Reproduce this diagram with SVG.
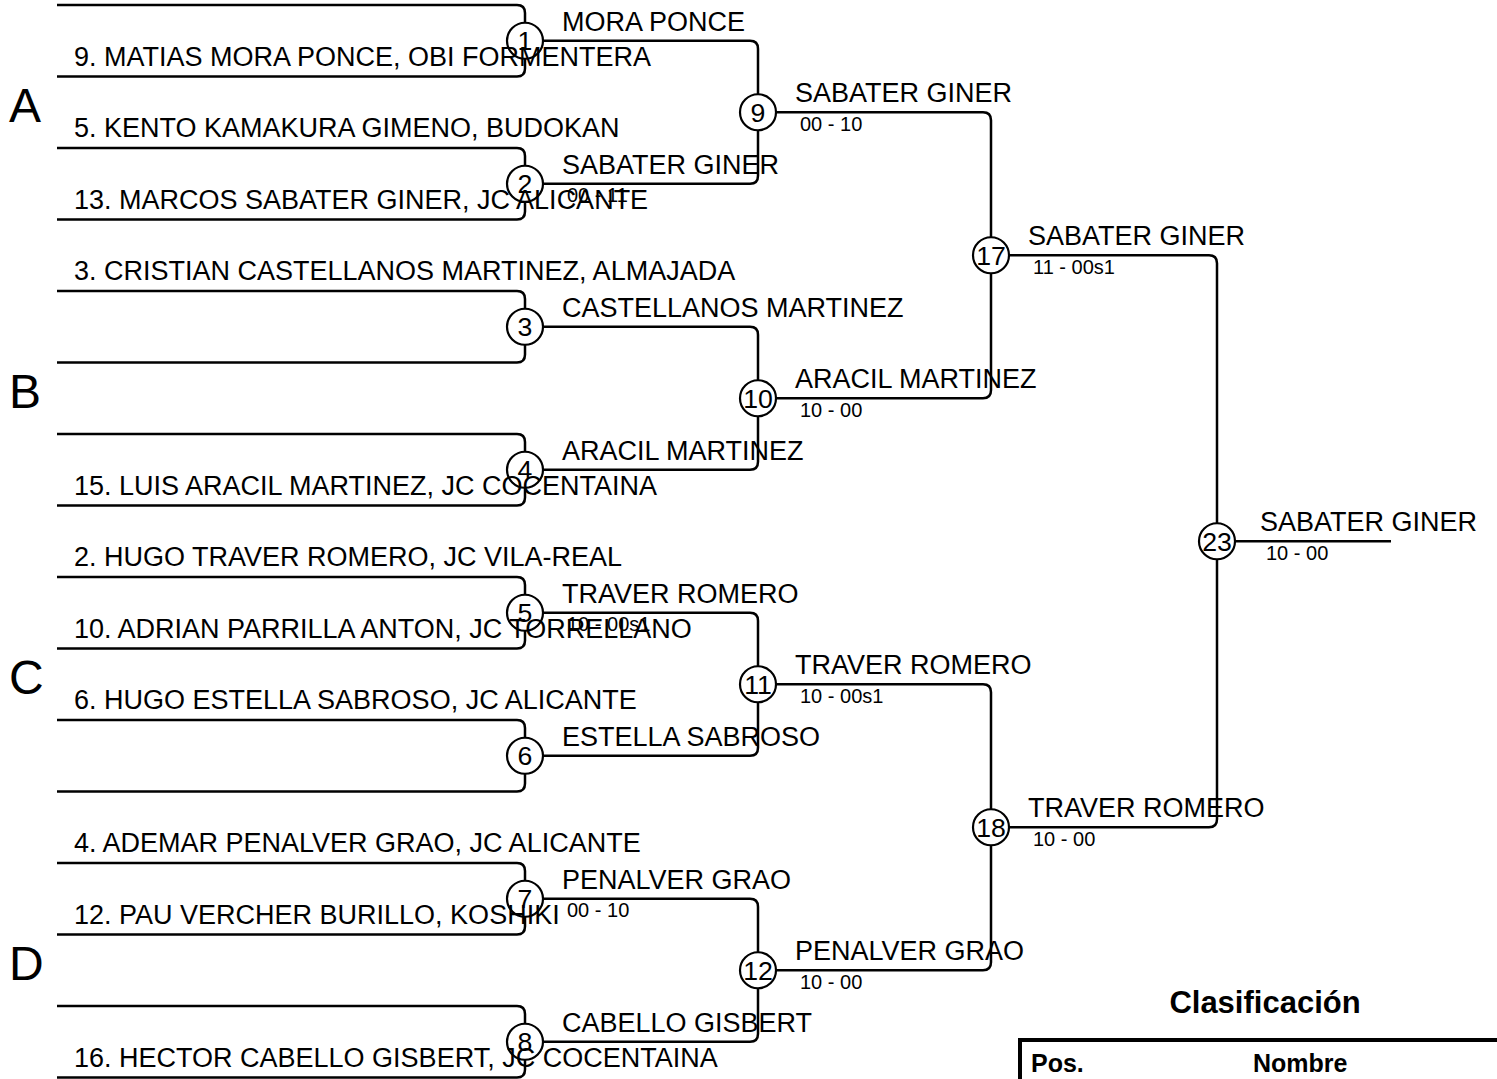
<svg xmlns="http://www.w3.org/2000/svg" width="1497" height="1079" viewBox="0 0 1497 1079">
<style>
text{font-family:"Liberation Sans",Arial,sans-serif;fill:#000}
.nm{font-size:27px}
.sc{font-size:20px}
.num{font-size:26.67px;text-anchor:middle}
.grp{font-size:48px}
.b{font-weight:bold}
.ln{fill:none;stroke:#000;stroke-width:2.5;stroke-linejoin:round}
.c{fill:none;stroke:#000;stroke-width:2.2}
</style>
<rect width="1497" height="1079" fill="#fff"/>
<g id="connectors" class="ln">
<path d="M57 5H517Q525 5 525 13V22.75"/>
<path d="M57 76.5H517Q525 76.5 525 68.5V58.75"/>
<path d="M57 148H517Q525 148 525 156V165.75"/>
<path d="M57 219.5H517Q525 219.5 525 211.5V201.75"/>
<path d="M57 291H517Q525 291 525 299V308.75"/>
<path d="M57 362.5H517Q525 362.5 525 354.5V344.75"/>
<path d="M57 434H517Q525 434 525 442V451.75"/>
<path d="M57 505.5H517Q525 505.5 525 497.5V487.75"/>
<path d="M57 577H517Q525 577 525 585V594.75"/>
<path d="M57 648.5H517Q525 648.5 525 640.5V630.75"/>
<path d="M57 720H517Q525 720 525 728V737.75"/>
<path d="M57 791.5H517Q525 791.5 525 783.5V773.75"/>
<path d="M57 863H517Q525 863 525 871V880.75"/>
<path d="M57 934.5H517Q525 934.5 525 926.5V916.75"/>
<path d="M57 1006H517Q525 1006 525 1014V1023.75"/>
<path d="M57 1077.5H517Q525 1077.5 525 1069.5V1059.75"/>
<path d="M543 40.75H750Q758 40.75 758 48.75V94.25"/>
<path d="M543 183.75H750Q758 183.75 758 175.75V130.25"/>
<path d="M543 326.75H750Q758 326.75 758 334.75V380.25"/>
<path d="M543 469.75H750Q758 469.75 758 461.75V416.25"/>
<path d="M543 612.75H750Q758 612.75 758 620.75V666.25"/>
<path d="M543 755.75H750Q758 755.75 758 747.75V702.25"/>
<path d="M543 898.75H750Q758 898.75 758 906.75V952.25"/>
<path d="M543 1041.75H750Q758 1041.75 758 1033.75V988.25"/>
<path d="M776 112.25H983Q991 112.25 991 120.25V237.25"/>
<path d="M776 398.25H983Q991 398.25 991 390.25V273.25"/>
<path d="M776 684.25H983Q991 684.25 991 692.25V809.25"/>
<path d="M776 970.25H983Q991 970.25 991 962.25V845.25"/>
<path d="M1009 255.25H1209Q1217 255.25 1217 263.25V523.25"/>
<path d="M1009 827.25H1209Q1217 827.25 1217 819.25V559.25"/>
<path d="M1235 541.25H1391"/>
</g>
<g id="groups">
<text class="grp" x="9" y="122">A</text>
<text class="grp" x="9" y="408">B</text>
<text class="grp" x="9" y="694">C</text>
<text class="grp" x="9" y="980">D</text>
</g>
<g id="players">
<text class="nm" x="74" y="65.5">9. MATIAS MORA PONCE, OBI FORMENTERA</text>
<text class="nm" x="74" y="137">5. KENTO KAMAKURA GIMENO, BUDOKAN</text>
<text class="nm" x="74" y="208.5">13. MARCOS SABATER GINER, JC ALICANTE</text>
<text class="nm" x="74" y="280">3. CRISTIAN CASTELLANOS MARTINEZ, ALMAJADA</text>
<text class="nm" x="74" y="494.5">15. LUIS ARACIL MARTINEZ, JC COCENTAINA</text>
<text class="nm" x="74" y="566">2. HUGO TRAVER ROMERO, JC VILA-REAL</text>
<text class="nm" x="74" y="637.5">10. ADRIAN PARRILLA ANTON, JC TORRELLANO</text>
<text class="nm" x="74" y="709">6. HUGO ESTELLA SABROSO, JC ALICANTE</text>
<text class="nm" x="74" y="852">4. ADEMAR PENALVER GRAO, JC ALICANTE</text>
<text class="nm" x="74" y="923.5">12. PAU VERCHER BURILLO, KOSHIKI</text>
<text class="nm" x="74" y="1066.5">16. HECTOR CABELLO GISBERT, JC COCENTAINA</text>
</g>
<g id="m1"><circle class="c" cx="525" cy="40.75" r="18"/><text class="num" x="525" y="50.25">1</text><text class="nm" x="562" y="30.75">MORA PONCE</text></g>
<g id="m2"><circle class="c" cx="525" cy="183.75" r="18"/><text class="num" x="525" y="193.25">2</text><text class="nm" x="562" y="173.75">SABATER GINER</text><text class="sc" x="567" y="202.25">00 - 11</text></g>
<g id="m3"><circle class="c" cx="525" cy="326.75" r="18"/><text class="num" x="525" y="336.25">3</text><text class="nm" x="562" y="316.75">CASTELLANOS MARTINEZ</text></g>
<g id="m4"><circle class="c" cx="525" cy="469.75" r="18"/><text class="num" x="525" y="479.25">4</text><text class="nm" x="562" y="459.75">ARACIL MARTINEZ</text></g>
<g id="m5"><circle class="c" cx="525" cy="612.75" r="18"/><text class="num" x="525" y="622.25">5</text><text class="nm" x="562" y="602.75">TRAVER ROMERO</text><text class="sc" x="567" y="631.25">10 - 00s1</text></g>
<g id="m6"><circle class="c" cx="525" cy="755.75" r="18"/><text class="num" x="525" y="765.25">6</text><text class="nm" x="562" y="745.75">ESTELLA SABROSO</text></g>
<g id="m7"><circle class="c" cx="525" cy="898.75" r="18"/><text class="num" x="525" y="908.25">7</text><text class="nm" x="562" y="888.75">PENALVER GRAO</text><text class="sc" x="567" y="917.25">00 - 10</text></g>
<g id="m8"><circle class="c" cx="525" cy="1041.75" r="18"/><text class="num" x="525" y="1051.25">8</text><text class="nm" x="562" y="1031.75">CABELLO GISBERT</text></g>
<g id="m9"><circle class="c" cx="758" cy="112.25" r="18"/><text class="num" x="758" y="121.75">9</text><text class="nm" x="795" y="102.25">SABATER GINER</text><text class="sc" x="800" y="130.75">00 - 10</text></g>
<g id="m10"><circle class="c" cx="758" cy="398.25" r="18"/><text class="num" x="758" y="407.75">10</text><text class="nm" x="795" y="388.25">ARACIL MARTINEZ</text><text class="sc" x="800" y="416.75">10 - 00</text></g>
<g id="m11"><circle class="c" cx="758" cy="684.25" r="18"/><text class="num" x="758" y="693.75">11</text><text class="nm" x="795" y="674.25">TRAVER ROMERO</text><text class="sc" x="800" y="702.75">10 - 00s1</text></g>
<g id="m12"><circle class="c" cx="758" cy="970.25" r="18"/><text class="num" x="758" y="979.75">12</text><text class="nm" x="795" y="960.25">PENALVER GRAO</text><text class="sc" x="800" y="988.75">10 - 00</text></g>
<g id="m17"><circle class="c" cx="991" cy="255.25" r="18"/><text class="num" x="991" y="264.75">17</text><text class="nm" x="1028" y="245.25">SABATER GINER</text><text class="sc" x="1033" y="273.75">11 - 00s1</text></g>
<g id="m18"><circle class="c" cx="991" cy="827.25" r="18"/><text class="num" x="991" y="836.75">18</text><text class="nm" x="1028" y="817.25">TRAVER ROMERO</text><text class="sc" x="1033" y="845.75">10 - 00</text></g>
<g id="m23"><circle class="c" cx="1217" cy="541.25" r="18"/><text class="num" x="1217" y="550.75">23</text><text class="nm" x="1260" y="531.25">SABATER GINER</text><text class="sc" x="1266" y="559.75">10 - 00</text></g>
<g id="clasificacion">
<text class="b" x="1265" y="1013" font-size="31" text-anchor="middle">Clasificación</text>
<path d="M1020 1079V1040H1497" fill="none" stroke="#000" stroke-width="4"/>
<text class="b" x="1031" y="1072" font-size="25">Pos.</text>
<text class="b" x="1253" y="1072" font-size="25">Nombre</text>
</g>
</svg>
